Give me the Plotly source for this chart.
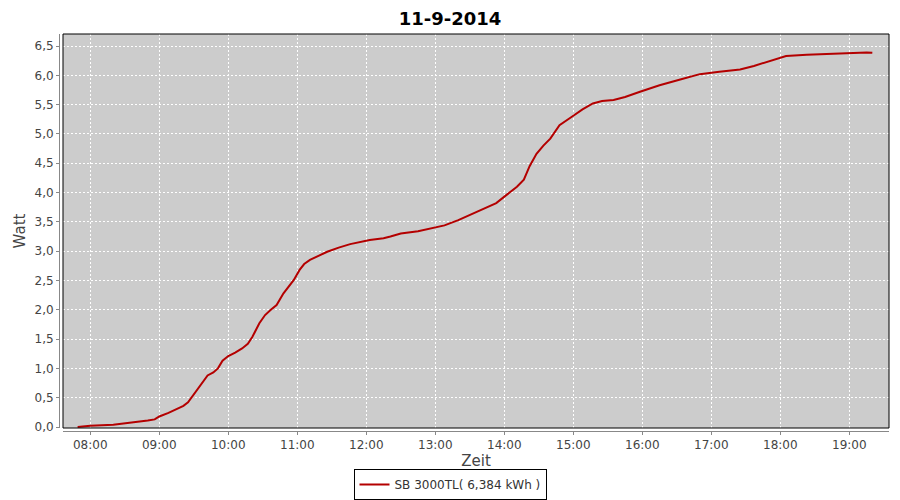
import plotly.graph_objects as go

day = "2014-09-11 "
times = ["07:49", "08:00", "08:20", "08:35", "08:50", "08:56", "09:00", "09:08", "09:15", "09:21",
         "09:25", "09:30", "09:38", "09:42", "09:47", "09:51", "09:55", "10:00", "10:06", "10:12",
         "10:17", "10:21", "10:27", "10:32", "10:37", "10:42", "10:48", "10:53", "10:57", "11:02",
         "11:06", "11:11", "11:18", "11:26", "11:36", "11:46", "12:03", "12:15", "12:21", "12:30",
         "12:45", "12:58", "13:08", "13:20", "13:36", "13:46", "13:53", "14:02", "14:11", "14:17",
         "14:22", "14:28", "14:34", "14:40", "14:48", "15:00", "15:08", "15:17", "15:25", "15:35",
         "15:45", "15:58", "16:15", "16:33", "16:50", "17:07", "17:25", "17:37", "17:54", "18:05",
         "18:23", "18:46", "19:15", "19:20"]
values = [0.00, 0.02, 0.04, 0.07, 0.11, 0.13, 0.18, 0.24, 0.30, 0.36,
          0.42, 0.56, 0.78, 0.88, 0.93, 1.00, 1.13, 1.21, 1.27, 1.34,
          1.42, 1.54, 1.77, 1.91, 2.00, 2.08, 2.28, 2.40, 2.51, 2.68,
          2.78, 2.85, 2.91, 2.99, 3.06, 3.12, 3.19, 3.22, 3.25, 3.30,
          3.34, 3.39, 3.44, 3.53, 3.67, 3.75, 3.82, 3.96, 4.10, 4.22,
          4.45, 4.66, 4.80, 4.92, 5.15, 5.31, 5.42, 5.52, 5.56, 5.58,
          5.63, 5.72, 5.83, 5.93, 6.02, 6.06, 6.10, 6.16, 6.26, 6.33,
          6.35, 6.37, 6.39, 6.384]
series_name = "SB 3000TL( 6,384 kWh )"
title_text = "11-9-2014"
x_title = "Zeit"
y_title = "Watt"
y_ticks = [0.0, 0.5, 1.0, 1.5, 2.0, 2.5, 3.0, 3.5, 4.0, 4.5, 5.0, 5.5, 6.0, 6.5]
x_ticks = ["08:00", "09:00", "10:00", "11:00", "12:00", "13:00", "14:00", "15:00",
           "16:00", "17:00", "18:00", "19:00"]

FONT = "DejaVu Sans"
fig = go.Figure()
fig.add_trace(go.Scatter(
    x=[day + t for t in times], y=values, mode="lines", name=series_name,
    line=dict(color="#B40000", width=2),
))

# page body has an 8px margin, so the figure is sized/positioned to compensate
fig.update_layout(
    width=892, height=492,
    margin=dict(l=51, r=11, t=26, b=69, autoexpand=False),
    paper_bgcolor="white", plot_bgcolor="#CCCCCC",
    separators=",.",
    font=dict(family=FONT, size=12, color="#444444"),
    title=dict(text="<b>" + title_text + "</b>", x=442 / 892, xanchor="center",
               xref="container", yref="container", y=0.9776, yanchor="middle",
               font=dict(family=FONT, size=18, color="black")),
    showlegend=True,
    legend=dict(orientation="h", x=391 / 830, xanchor="center", y=-0.0957, yanchor="top",
                bordercolor="black", borderwidth=1, bgcolor="white",
                font=dict(family=FONT, size=12, color="#333333"),
                itemwidth=30, tracegroupgap=0),
    xaxis=dict(
        domain=[4 / 830, 1], anchor="free", position=0, automargin=False,
        range=[day + "07:36:17", day + "19:34:30"],
        tickvals=[day + t for t in x_ticks], ticktext=x_ticks,
        showgrid=True, gridcolor="white", griddash="2px,2px", gridwidth=1,
        showline=True, linecolor="#888888", linewidth=1,
        ticks="outside", ticklen=3, tickcolor="#888888",
        tickfont=dict(family=FONT, size=12, color="#444444"),
        title=dict(text=x_title, font=dict(family=FONT, size=15, color="#444444"), standoff=4),
        zeroline=False,
    ),
    yaxis=dict(
        domain=[3 / 397, 1], anchor="free", position=0, automargin=False,
        range=[-0.017, 6.705],
        tickvals=y_ticks, tickformat=".1f",
        showgrid=True, gridcolor="white", griddash="2px,2px", gridwidth=1,
        showline=True, linecolor="#888888", linewidth=1,
        ticks="outside", ticklen=3, tickcolor="#888888",
        tickfont=dict(family=FONT, size=12, color="#444444"),
        title=dict(text=y_title, font=dict(family=FONT, size=15, color="#444444"), standoff=4),
        zeroline=False,
    ),
    shapes=[dict(type="rect", xref="x domain", yref="y domain", x0=0, x1=1, y0=0, y1=1,
                 line=dict(color="black", width=1), fillcolor="rgba(0,0,0,0)", layer="above")],
)

fig.write_html("out.html")
